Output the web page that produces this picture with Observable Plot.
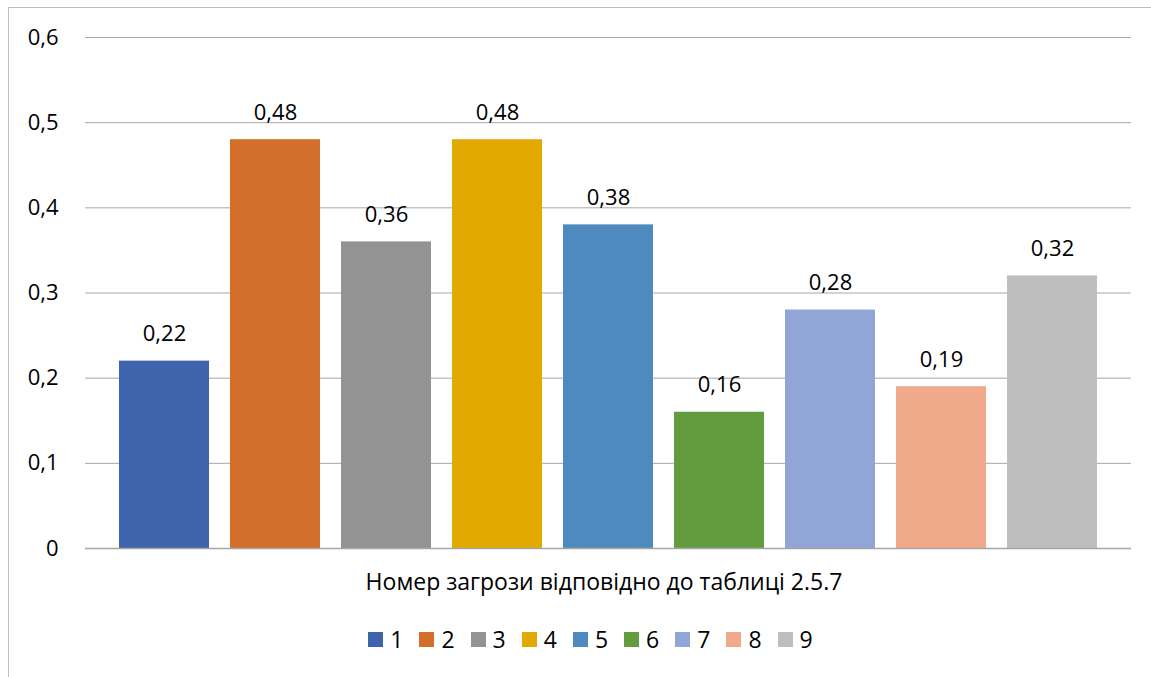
<!DOCTYPE html>
<html>
<head>
<meta charset="utf-8">
<script src="https://cdn.jsdelivr.net/npm/d3@7"></script>
<script src="https://cdn.jsdelivr.net/npm/@observablehq/plot@0.6"></script>
<style>
  html, body { margin: 0; padding: 0; background: #fff; overflow: hidden; }
  body { width: 1151px; height: 677px; position: relative; font-family: "Open Sans", sans-serif; }
  #frame { position: absolute; left: 8px; top: 7px; width: 1300px; height: 800px; border: 1px solid #bfbfbf; pointer-events: none; }
  #chart { position: absolute; left: 0; top: 0; }
  #xtitle { position: absolute; left: 57px; width: 1094px; top: 566px; text-align: center; font-size: 23px; line-height: 30px; color: #000; white-space: nowrap; }
  #legend { position: absolute; left: 30px; width: 1121px; top: 624px; display: flex; justify-content: center; font-size: 23px; line-height: 30px; color: #000; }
  .item { display: flex; align-items: center; margin: 0 8px; }
  .sw { width: 15px; height: 15px; margin-right: 7px; }
</style>
</head>
<body>
<div id="chart"></div>
<div id="xtitle"></div>
<div id="legend"></div>
<div id="frame"></div>
<script>
const categories = ["1", "2", "3", "4", "5", "6", "7", "8", "9"];
const values = [0.22, 0.48, 0.36, 0.48, 0.38, 0.16, 0.28, 0.19, 0.32];
const colors = ["#3E64AE", "#D36F2B", "#939393", "#E2AA00", "#4E8AC0", "#629C3E", "#91A6D6", "#F0A98B", "#BEBEBE"];
const yTicks = [0, 0.1, 0.2, 0.3, 0.4, 0.5, 0.6];
const xTitle = "Номер загрози відповідно до таблиці 2.5.7";

const data = categories.map((c, i) => ({cat: c, value: values[i]}));
const fmt = d => d === 0 ? "0" : d.toFixed(2).replace(/0$/, "").replace(".", ",");

const chart = Plot.plot({
  width: 1151,
  height: 576,
  marginTop: 37,
  marginBottom: 28,
  marginLeft: 85,
  marginRight: 20,
  style: {fontFamily: "Open Sans, sans-serif", fontSize: "22px", color: "#000", background: "transparent"},
  x: {domain: categories, paddingInner: 0.19, paddingOuter: 0.287, axis: null},
  y: {domain: [0, 0.6], axis: null},
  color: {domain: categories, range: colors},
  marks: [
    Plot.gridY(yTicks, {stroke: "#a6a6a6", strokeOpacity: 1, strokeWidth: 1}),
    Plot.barY(data, {x: "cat", y: "value", fill: "cat"}),
    Plot.ruleY([0], {stroke: "#a6a6a6", strokeWidth: 1.5}),
    Plot.axisY(yTicks, {tickSize: 0, tickPadding: 27, tickFormat: fmt, label: null, fontSize: 22, fill: "#000"}),
    Plot.text(data, {x: "cat", y: "value", text: d => fmt(d.value), dy: -27, fontSize: 22, fill: "#000"})
  ]
});
document.getElementById("chart").appendChild(chart);
document.getElementById("xtitle").textContent = xTitle;

const legend = document.getElementById("legend");
categories.forEach((c, i) => {
  const item = document.createElement("div");
  item.className = "item";
  const sw = document.createElement("div");
  sw.className = "sw";
  sw.style.background = colors[i];
  const t = document.createElement("span");
  t.textContent = c;
  item.appendChild(sw);
  item.appendChild(t);
  legend.appendChild(item);
});
</script>
</body>
</html>
